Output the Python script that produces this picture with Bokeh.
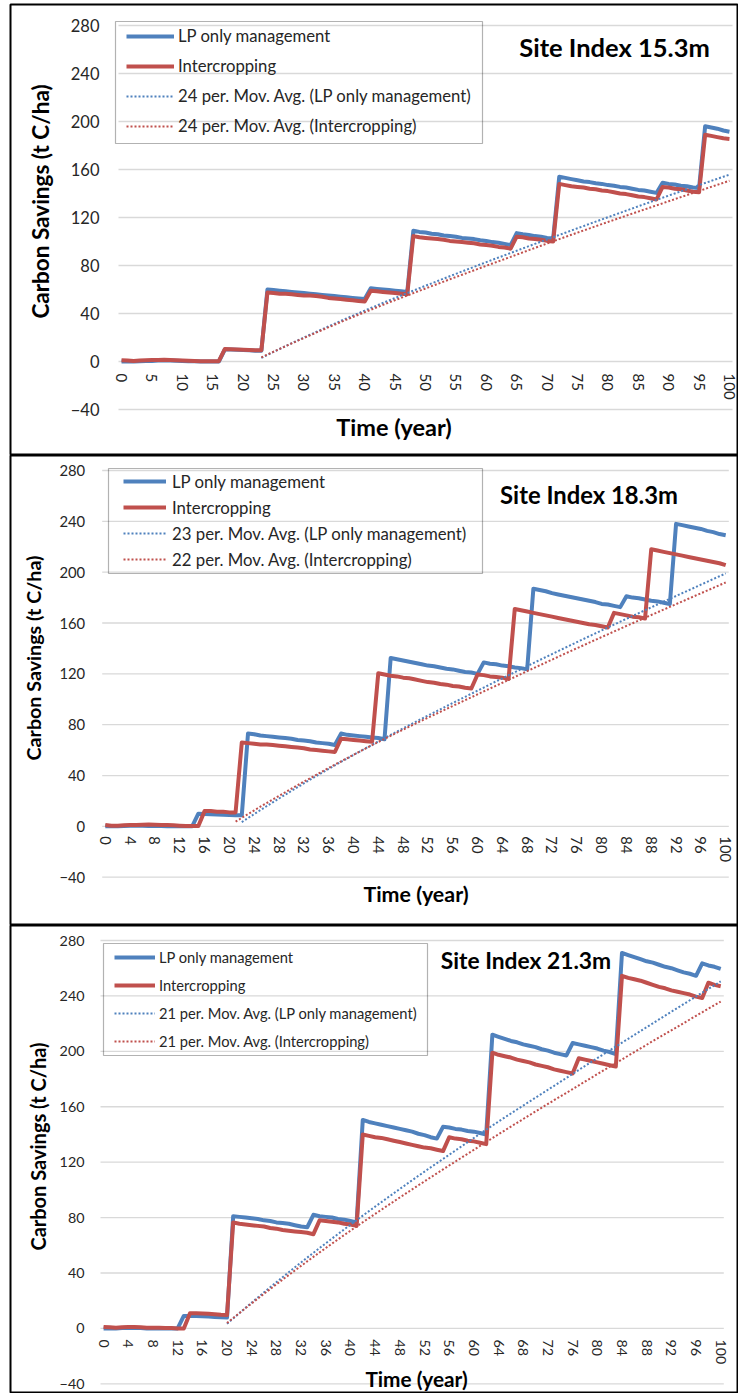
import math
import numpy as np
import pandas as pd
from bokeh.plotting import figure
from bokeh.models import (LinearAxis, FixedTicker, Legend, LegendItem, Label,
                          ColumnDataSource, Range1d, BoxAnnotation)
from bokeh.layouts import column
from bokeh.embed import file_html
from bokeh.resources import INLINE

# ---------------------------------------------------------------- data
years = list(range(0, 101))

# Site index 15.3 m
si153_lp = [0, 0, 0, 0.3, 0.5, 0.5, 0.8, 1, 0.8, 0.6, 0.4, 0.3, 0.2, 0, 0, 0, 0,
            10, 10, 9.8, 9.5, 9.3, 9, 9,
            60, 59.5, 59, 58.5, 58, 57.5, 57, 56.5, 56, 55.5, 55, 54.5, 54, 53.5, 53, 52.5, 52,
            61, 60.5, 60, 59.5, 59, 58.5, 58,
            109, 108, 107.5, 106.5, 106, 105, 104.5, 104, 103, 102.5, 102, 101, 100.5, 99.5, 99, 98, 97,
            107, 106, 105.5, 104.5, 104, 103, 102.5,
            154, 153, 152, 151, 150, 149.5, 148.5, 148, 147, 146.5, 145.5, 145, 144, 143, 142.5, 141.5, 140.5,
            149, 148, 147.5, 146.5, 146, 145, 144.5,
            196, 195, 194, 192.5, 191.5]
si153_ic = [1, 0.8, 0.5, 0.8, 1, 1.2, 1.3, 1.5, 1.3, 1, 0.8, 0.6, 0.5, 0.3, 0.3, 0.3, 0.3,
            10.5, 10.3, 10, 9.8, 9.6, 9.4, 9.3,
            57.5, 57, 56.5, 56.5, 56, 55.5, 55, 55, 54.5, 54, 53, 52.5, 52, 51.5, 51, 50.5, 50,
            59, 58.5, 58, 57.5, 57, 56.5, 56,
            104.5, 103.5, 103, 102.5, 102, 101.5, 100.5, 100, 99.5, 99, 98.5, 97.5, 97, 96.5, 95.5, 95, 94,
            104, 103.5, 102.5, 102, 101.5, 100.5, 100,
            148, 147, 146, 145.5, 145, 144, 143.5, 142.5, 142, 141, 140, 139.5, 138.5, 137.5, 137, 136, 135,
            145.5, 145, 144, 143.5, 142.5, 141.5, 141,
            189, 188, 187, 186, 185.5]

# Site index 18.3 m
si183_lp = [0, 0, 0, 0.3, 0.5, 0.5, 0.5, 0.3, 0.3, 0.2, 0, 0, 0, 0, 0,
            10, 9.8, 9.5, 9.3, 9.2, 9, 8.8, 8.7,
            73, 72.5, 71.5, 71, 70.5, 70, 69.5, 69, 68, 67.5, 67, 66, 65.5, 65, 64,
            73, 72, 71.5, 71, 70.5, 70, 69.5, 68.5,
            132.5, 131.5, 130.5, 129.5, 128.5, 127.5, 126.5, 126, 125, 124, 123.5, 122.5, 121.5, 121, 120,
            129, 128, 127.5, 126.5, 126, 125, 124.5, 123.5,
            187, 186, 185, 183.5, 182.5, 181.5, 180.5, 179.5, 178.5, 177.5, 176.5, 175, 174.5, 173.5, 172.5,
            181, 180, 179.5, 178.5, 177.5, 177, 176, 175,
            238, 237, 236, 235, 234, 232.5, 231.5, 230, 229]
si183_ic = [1, 0.5, 0.5, 0.8, 1, 1, 1.3, 1.5, 1.2, 1, 1, 0.8, 0.5, 0.3, 0.3, 0.3,
            12, 12, 11.5, 11.5, 11, 11,
            66, 65.5, 65, 64.5, 64.5, 64, 63.5, 63, 62.5, 62, 61.5, 60.5, 60, 59.5, 59, 58.5,
            69, 68.5, 68, 67.5, 67, 66.5,
            120.5, 119.5, 118.5, 118, 117, 116.5, 115.5, 114.5, 113.5, 113, 112, 111.5, 110.5, 110, 109, 108.5,
            119.5, 119, 118, 117.5, 117, 116,
            171, 170, 169, 168, 167, 166, 165, 164, 163, 162, 161, 160, 159, 158.5, 157.5, 156.5,
            168, 167, 166, 165, 164.5, 163.5,
            218, 217, 216, 215, 214, 213, 212, 211, 210, 209, 208, 207, 205.5]

# Site index 21.3 m
si213_lp = [0, 0, 0, 0.3, 0.5, 0.3, 0.2, 0, 0, 0, 0, 0, 0,
            9, 9, 9, 8.8, 8.5, 8.3, 8, 7.8,
            81, 80.5, 80, 79.5, 79, 78, 77.5, 76.5, 76, 75.5, 74.5, 73.5, 73,
            82, 81, 80.5, 80, 79, 78.5, 77.5, 76.5,
            150.5, 149, 148, 147, 146, 145, 144, 143, 142, 140.5, 139.5, 138, 137,
            145.5, 145, 144, 143.5, 142.5, 142, 141, 140,
            212, 210.5, 209, 207.5, 206.5, 205, 204, 203, 201.5, 200.5, 199, 198, 197,
            206, 205, 204, 203, 202, 200.5, 199.5, 198,
            271, 269.5, 268, 266.5, 265, 264, 262.5, 261, 260, 258.5, 257, 256, 254.5,
            263.5, 262, 261, 259.5]
si213_ic = [1, 0.8, 0.5, 0.8, 1, 1, 0.8, 0.5, 0.5, 0.5, 0.3, 0.3, 0, 0,
            11, 11, 10.8, 10.5, 10.2, 9.8, 9.6,
            76.5, 75.5, 75, 74.5, 74, 73.5, 72.5, 72, 71, 70.5, 70, 69.5, 69, 68,
            78, 77.5, 77, 76.5, 75.5, 75, 74,
            140, 139, 138, 137.5, 136.5, 135.5, 134.5, 133.5, 132.5, 131.5, 130.5, 130, 129, 128,
            138, 137, 136.5, 135.5, 135, 134, 133,
            199, 197.5, 196.5, 195.5, 194, 193, 192, 190.5, 189.5, 188.5, 187, 186, 185, 184,
            195, 194, 193, 192, 191, 190, 189,
            254.5, 253, 252, 251, 249.5, 248, 246.5, 245.5, 244, 243, 242, 241, 239.5, 238.5,
            249.5, 248, 247]

y_ticks = [-40, 0, 40, 80, 120, 160, 200, 240, 280]
x_ticks_5 = list(range(0, 101, 5))
x_ticks_4 = list(range(0, 101, 4))

for s in (si153_lp, si153_ic, si183_lp, si183_ic, si213_lp, si213_ic):
    assert len(s) == len(years), len(s)

# ---------------------------------------------------------------- style
BLUE = "#4F81BD"
RED = "#C0504D"
GRID = "#d9d9d9"
TXT = "#262626"
FONT = "Lato"
W = 738
FRAME_L, FRAME_R = 10, 737


def lin(p0, v0, p1, v1):
    k = (v1 - v0) / (p1 - p0)
    return lambda q: v0 + (q - p0) * k


def panel(lp, ic, n_lp, n_ic, x_ticks, title, cfg):
    top, bottom, h = cfg["top"], cfg["bottom"], cfg["height"]
    fx = lin(cfg["x0"], -0.5, cfg["x1"], 100.5)
    fy = lin(cfg["y280"], 280, cfg["ym40"], -40)

    p = figure(width=W, height=h, title=None,
               x_range=Range1d(fx(FRAME_L), fx(FRAME_R)),
               y_range=Range1d(fy(bottom), fy(top)),
               x_axis_type=None, y_axis_type=None,
               toolbar_location=None, output_backend="svg",
               min_border_left=FRAME_L, min_border_right=W - FRAME_R,
               min_border_top=top, min_border_bottom=h - bottom,
               outline_line_color="black", outline_line_width=2,
               background_fill_color="white", border_fill_color="white")

    # horizontal gridlines across the plot area
    p.segment(x0=[-0.5] * len(y_ticks), x1=[100.5] * len(y_ticks), y0=y_ticks, y1=y_ticks,
              line_color=GRID, line_width=1.3)

    ya = LinearAxis(fixed_location=-0.5, ticker=FixedTicker(ticks=y_ticks),
                    axis_line_color=None, major_tick_line_color=None,
                    minor_tick_line_color=None, major_tick_in=0, major_tick_out=0,
                    major_label_standoff=cfg["ystand"], major_label_text_font=FONT,
                    major_label_text_font_size=cfg["ytick_fs"], major_label_text_color=TXT)
    p.add_layout(ya, "left")

    xa = LinearAxis(fixed_location=0, ticker=FixedTicker(ticks=x_ticks),
                    major_label_orientation="vertical",
                    axis_line_color=None, major_tick_line_color=None,
                    minor_tick_line_color=None, major_tick_in=0, major_tick_out=0,
                    major_label_standoff=cfg["xstand"], major_label_text_font=FONT,
                    major_label_text_font_size=cfg["xtick_fs"], major_label_text_color=TXT)
    p.add_layout(xa, "below")

    src = ColumnDataSource(dict(
        year=years, lp=lp, ic=ic,
        lp_ma=pd.Series(lp).rolling(n_lp).mean().to_numpy(),
        ic_ma=pd.Series(ic).rolling(n_ic).mean().to_numpy(),
    ))
    r_lp = p.line("year", "lp", source=src, line_color=BLUE, line_width=4, line_join="round")
    r_ic = p.line("year", "ic", source=src, line_color=RED, line_width=4, line_join="round")
    r_lpm = p.line("year", "lp_ma", source=src, line_color=BLUE, line_width=2, line_dash="2 2")
    r_icm = p.line("year", "ic_ma", source=src, line_color=RED, line_width=2, line_dash="2 2")

    ih = cfg["leg_h"]
    leg = Legend(items=[
        LegendItem(label="LP only management", renderers=[r_lp]),
        LegendItem(label="Intercropping", renderers=[r_ic]),
        LegendItem(label=f"{n_lp} per. Mov. Avg. (LP only management)", renderers=[r_lpm]),
        LegendItem(label=f"{n_ic} per. Mov. Avg. (Intercropping)", renderers=[r_icm]),
    ], location=(cfg["leg_gx"] - FRAME_L, bottom - (cfg["leg_top"] + 4 * ih)),
        padding=0, spacing=0, margin=0, glyph_height=ih, label_height=ih,
        glyph_width=cfg["leg_gw"], label_standoff=cfg["leg_stand"],
        border_line_color=None, background_fill_alpha=0,
        label_text_font=FONT, label_text_font_size=cfg["leg_fs"], label_text_color=TXT)
    p.add_layout(leg)

    bl, br, bt, bb = cfg["leg_box"]
    p.add_layout(BoxAnnotation(left=fx(bl), right=fx(br), top=fy(bt), bottom=fy(bb),
                               fill_color=None, line_color="black", line_width=1.2))

    tx, ty = cfg["title_xy"]
    p.add_layout(Label(x=fx(tx), y=fy(ty), text=title, text_font=FONT, text_font_style="bold",
                       text_font_size=cfg["title_fs"], text_color="black",
                       text_align="center", text_baseline="middle"))
    xx, xy = cfg["xlab_xy"]
    p.add_layout(Label(x=fx(xx), y=fy(xy), text="Time (year)", text_font=FONT,
                       text_font_style="bold", text_font_size=cfg["xlab_fs"], text_color="black",
                       text_align="center", text_baseline="middle"))
    yx, yy = cfg["ylab_xy"]
    p.add_layout(Label(x=fx(yx), y=fy(yy), text="Carbon Savings (t C/ha)", text_font=FONT,
                       text_font_style="bold", text_font_size=cfg["ylab_fs"], text_color="black",
                       angle=math.pi / 2, text_align="center", text_baseline="middle"))
    return p


cfg1 = dict(height=455, top=4, bottom=454, x0=118, x1=732, y280=25, ym40=409,
            ystand=19, xstand=12, ytick_fs="16.5px", xtick_fs="15px",
            leg_h=30, leg_top=21, leg_gx=126, leg_gw=48, leg_stand=4, leg_fs="16.7px",
            leg_box=(115, 482, 21, 143),
            title_xy=(614, 46), title_fs="25.5px",
            xlab_xy=(393.5, 426), xlab_fs="23.5px",
            ylab_xy=(40, 201), ylab_fs="22.5px")
cfg2 = dict(height=470, top=0, bottom=469, x0=101.7, x1=728.3, y280=15, ym40=421.7,
            ystand=17, xstand=10, ytick_fs="14.8px", xtick_fs="14.8px",
            leg_h=26, leg_top=13, leg_gx=123, leg_gw=43, leg_stand=6, leg_fs="16.8px",
            leg_box=(108, 482, 13, 118),
            title_xy=(588.5, 39), title_fs="23.8px",
            xlab_xy=(415.5, 438), xlab_fs="21.4px",
            ylab_xy=(33, 202.5), ylab_fs="19.7px")
cfg3 = dict(height=468, top=0, bottom=467, x0=100, x1=723.3, y280=15, ym40=458.3,
            ystand=16, xstand=11, ytick_fs="14.3px", xtick_fs="14.3px",
            leg_h=28, leg_top=18, leg_gx=114, leg_gw=41, leg_stand=4, leg_fs="14.7px",
            leg_box=(103, 427, 18, 130),
            title_xy=(525.5, 34), title_fs="22.8px",
            xlab_xy=(416, 453), xlab_fs="20.8px",
            ylab_xy=(37, 221), ylab_fs="20px")

p1 = panel(si153_lp, si153_ic, 24, 24, x_ticks_5, "Site Index 15.3m", cfg1)
p2 = panel(si183_lp, si183_ic, 23, 22, x_ticks_4, "Site Index 18.3m", cfg2)
p3 = panel(si213_lp, si213_ic, 21, 21, x_ticks_4, "Site Index 21.3m", cfg3)

page = column(p1, p2, p3, spacing=0)
open("out.html", "w").write(file_html(page, INLINE))
